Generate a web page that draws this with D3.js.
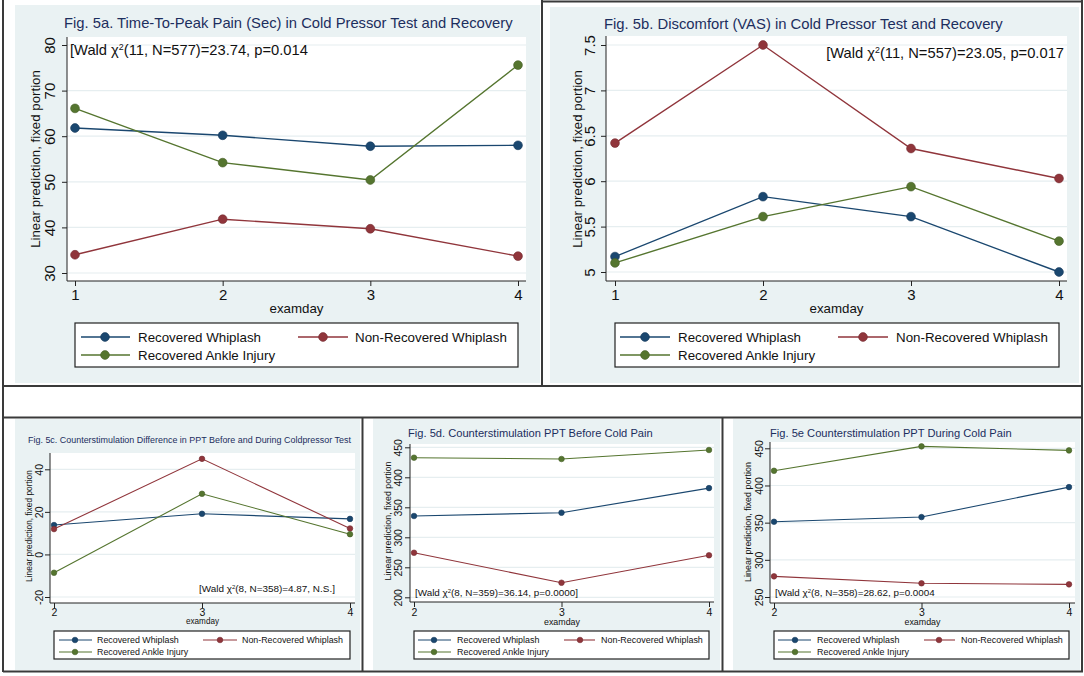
<!DOCTYPE html>
<html>
<head>
<meta charset="utf-8">
<script src="https://cdn.jsdelivr.net/npm/d3@7"></script>
<style>
  body { margin: 0; background: #fff; }
  svg { display: block; font-family: "Liberation Sans", Arial, sans-serif; }
</style>
</head>
<body>
<svg id="chart" width="1084" height="676"></svg>
<script>
// groups shown in every legend
var groups = ['Recovered Whiplash', 'Non-Recovered Whiplash', 'Recovered Ankle Injury'];
var groupColors = ['#1a476f', '#90353b', '#55752f'];

// exam days
var daysAB = [1, 2, 3, 4];
var daysCDE = [2, 3, 4];

// Fig 5a time-to-peak pain (sec)
var peakRecovered = [61.8, 60.2, 57.8, 58.0];
var peakNonRecovered = [34.0, 41.8, 39.7, 33.7];
var peakAnkle = [66.1, 54.2, 50.4, 75.6];
var peakTicks = [30, 40, 50, 60, 70, 80];

// Fig 5b discomfort (VAS)
var vasRecovered = [5.17, 5.83, 5.61, 5.00];
var vasNonRecovered = [6.42, 7.50, 6.36, 6.03];
var vasAnkle = [5.10, 5.61, 5.94, 5.34];
var vasTicks = [5, 5.5, 6, 6.5, 7, 7.5];

// Fig 5c counterstimulation difference
var diffRecovered = [13.8, 19.1, 16.7];
var diffNonRecovered = [11.9, 44.9, 12.2];
var diffAnkle = [-8.6, 28.5, 9.5];
var diffTicks = [-20, 0, 20, 40];

// Fig 5d PPT before cold pain
var beforeRecovered = [335.5, 341, 382];
var beforeNonRecovered = [274.3, 224.3, 270];
var beforeAnkle = [432.7, 430.5, 445.5];
var beforeTicks = [200, 250, 300, 350, 400, 450];

// Fig 5e PPT during cold pain
var duringRecovered = [351.2, 357.5, 397.8];
var duringNonRecovered = [277.8, 268.4, 267];
var duringAnkle = [419.8, 452.6, 447.2];
var duringTicks = [250, 300, 350, 400, 450];

var svg = d3.select('#chart');

function fit(sel, w) {
  var fs = parseFloat(sel.style('font-size'));
  var len = sel.node().getComputedTextLength();
  sel.style('font-size', (fs * w / len) + 'px');
  return fs * w / len;
}

function waldText(g, x, y, anchor, w, parts) {
  var t = g.append('text').attr('x', x).attr('y', y).attr('dy', '0.35em')
    .attr('text-anchor', anchor).style('font-size', '14px').attr('fill', '#111');
  t.append('tspan').text('[Wald \u03c7');
  t.append('tspan').attr('baseline-shift', 'super').style('font-size', '60%').text('2');
  t.append('tspan').text(parts);
  fit(t, w);
}

function drawPanel(p) {
  var g = svg.append('g');
  g.append('rect').attr('x', p.bg[0]).attr('y', p.bg[1])
    .attr('width', p.bg[2] - p.bg[0]).attr('height', p.bg[3] - p.bg[1])
    .attr('fill', '#eaf2f3');
  g.append('rect').attr('x', p.l).attr('y', p.t)
    .attr('width', p.r - p.l).attr('height', p.b - p.t).attr('fill', '#fff');

  var x = d3.scaleLinear().domain(d3.extent(p.days)).range(p.xr);
  var y = d3.scaleLinear().domain([p.ticks[0], p.ticks[p.ticks.length - 1]]).range(p.yr);

  // grid
  g.selectAll('.grid').data(p.ticks).enter().append('line')
    .attr('x1', p.l).attr('x2', p.r)
    .attr('y1', d => y(d)).attr('y2', d => y(d))
    .attr('stroke', '#e6eef0').attr('stroke-width', 1.2);

  // y axis
  var ya = g.append('g').attr('transform', 'translate(' + p.l + ',0)')
    .call(d3.axisLeft(y).tickValues(p.ticks).tickSize(5).tickSizeOuter(0).tickFormat(d => String(d)));
  ya.select('.domain').remove();
  ya.selectAll('line').attr('stroke', '#222');
  ya.selectAll('text')
    .attr('transform', 'rotate(-90)').attr('x', 0).attr('y', -(p.l - p.ytx - 0.36 * p.tfs))
    .attr('dy', 0).style('text-anchor', 'middle').style('font-size', p.tfs + 'px')
    .style('font-family', 'inherit').attr('fill', '#111');
  g.append('line').attr('x1', p.l).attr('x2', p.l).attr('y1', p.t).attr('y2', p.b)
    .attr('stroke', '#222').attr('stroke-width', 1);

  // x axis
  var xa = g.append('g').attr('transform', 'translate(0,' + p.b + ')')
    .call(d3.axisBottom(x).tickValues(p.days).tickSize(5).tickSizeOuter(0).tickFormat(d3.format('d')));
  xa.select('.domain').remove();
  xa.selectAll('line').attr('stroke', '#222');
  xa.selectAll('text').attr('y', p.xty - p.b).attr('dy', '0.36em')
    .style('font-size', p.tfs + 'px').style('font-family', 'inherit').attr('fill', '#111');
  g.append('line').attr('x1', p.l).attr('x2', p.r).attr('y1', p.b).attr('y2', p.b)
    .attr('stroke', '#222').attr('stroke-width', 1);

  // axis titles
  var yt = g.append('text').attr('transform', 'translate(' + p.ytitle[0] + ',' + p.ytitle[1] + ') rotate(-90)')
    .attr('text-anchor', 'middle').attr('dy', '0.35em').style('font-size', '12px').attr('fill', '#111')
    .text('Linear prediction, fixed portion');
  fit(yt, p.ytitle[2]);
  var xt = g.append('text').attr('x', (p.l + p.r) / 2).attr('y', p.xtitle[0]).attr('dy', '0.3em')
    .attr('text-anchor', 'middle').style('font-size', '12px').attr('fill', '#111').text('examday');
  fit(xt, p.xtitle[1]);

  // title
  var tt = g.append('text').attr('x', p.title[1]).attr('y', p.title[2]).attr('dy', '0.36em')
    .style('font-size', '12px').attr('fill', '#1c2e5e').text(p.title[0]);
  fit(tt, p.title[3]);

  waldText(g, p.wald[0], p.wald[1], p.wald[2], p.wald[3], p.wald[4]);

  // series
  var line = d3.line().x((d, i) => x(p.days[i])).y(d => y(d));
  p.series.forEach(function (vals, k) {
    g.append('path').datum(vals).attr('d', line).attr('fill', 'none')
      .attr('stroke', groupColors[k]).attr('stroke-width', p.lw);
    g.selectAll('.pt' + k).data(vals).enter().append('circle')
      .attr('cx', (d, i) => x(p.days[i])).attr('cy', d => y(d)).attr('r', p.mr)
      .attr('fill', groupColors[k]).attr('stroke', d3.color(groupColors[k]).darker(0.6)).attr('stroke-width', 0.6);
  });

  // legend
  var L = p.legend;
  g.append('rect').attr('x', L.box[0]).attr('y', L.box[1])
    .attr('width', L.box[2] - L.box[0]).attr('height', L.box[3] - L.box[1])
    .attr('fill', '#fff').attr('stroke', '#222').attr('stroke-width', 1.2);
  var slots = [[0, 0], [1, 0], [0, 1]];
  var probe = g.append('text').style('font-size', '12px').text(groups[1]);
  var lfs = fit(probe, L.w);
  probe.remove();
  groups.forEach(function (name, k) {
    var c = L.cols[slots[k][0]], ry = L.rows[slots[k][1]];
    g.append('line').attr('x1', c[0]).attr('x2', c[1]).attr('y1', ry).attr('y2', ry)
      .attr('stroke', groupColors[k]).attr('stroke-width', p.lw);
    g.append('circle').attr('cx', c[2]).attr('cy', ry).attr('r', p.mr)
      .attr('fill', groupColors[k]).attr('stroke', d3.color(groupColors[k]).darker(0.6)).attr('stroke-width', 0.6);
    g.append('text').attr('x', c[3]).attr('y', ry).attr('dy', '0.36em')
      .style('font-size', lfs + 'px').attr('fill', '#111').text(name);
  });
}

drawPanel({
  bg: [15, 5, 540, 383], l: 67, r: 526, t: 37, b: 281,
  days: daysAB, xr: [75, 518], ticks: peakTicks, yr: [273, 45],
  series: [peakRecovered, peakNonRecovered, peakAnkle],
  tfs: 15, ytx: 50, xty: 295, ytitle: [35, 159, 178], xtitle: [309, 54],
  title: ['Fig. 5a. Time-To-Peak Pain (Sec) in Cold Pressor Test and Recovery', 64, 23, 449],
  wald: [70, 50, 'start', 238, '(11, N=577)=23.74, p=0.014'],
  lw: 1.4, mr: 4.4,
  legend: { box: [75, 323, 518, 367], rows: [337, 355], w: 152,
    cols: [[81, 130, 105, 138], [298, 348, 323, 355]] }
});

drawPanel({
  bg: [550, 7, 1079, 383], l: 606, r: 1067, t: 36, b: 281,
  days: daysAB, xr: [615, 1059], ticks: vasTicks, yr: [272, 45],
  series: [vasRecovered, vasNonRecovered, vasAnkle],
  tfs: 15, ytx: 590, xty: 295, ytitle: [577, 159, 178], xtitle: [309, 54],
  title: ['Fig. 5b. Discomfort (VAS) in Cold Pressor Test and Recovery', 604, 24, 399],
  wald: [1064, 53, 'end', 238, '(11, N=557)=23.05, p=0.017'],
  lw: 1.4, mr: 4.4,
  legend: { box: [615, 323, 1059, 367], rows: [337, 355], w: 152,
    cols: [[620, 670, 645, 678], [838, 888, 863, 896]] }
});

drawPanel({
  bg: [15, 419, 360, 670], l: 50, r: 355, t: 453, b: 603,
  days: daysCDE, xr: [54, 350], ticks: diffTicks, yr: [597, 469.3],
  series: [diffRecovered, diffNonRecovered, diffAnkle],
  tfs: 10.5, ytx: 39, xty: 612, ytitle: [29, 526, 112], xtitle: [622, 33],
  title: ['Fig. 5c. Counterstimulation Difference in PPT Before and During Coldpressor Test', 28, 440, 323],
  wald: [199, 589, 'start', 136, '(8, N=358)=4.87, N.S.]'],
  lw: 1.1, mr: 2.8,
  legend: { box: [54, 631, 350, 659], rows: [640, 652], w: 101,
    cols: [[59, 92, 75, 97], [203, 237, 220, 242]] }
});

drawPanel({
  bg: [373, 419, 720, 670], l: 410, r: 714, t: 444, b: 602,
  days: daysCDE, xr: [414, 709], ticks: beforeTicks, yr: [597.3, 447.3],
  series: [beforeRecovered, beforeNonRecovered, beforeAnkle],
  tfs: 10.5, ytx: 398, xty: 612, ytitle: [388, 521, 119], xtitle: [622, 36],
  title: ['Fig. 5d. Counterstimulation PPT Before Cold Pain', 408, 433, 245],
  wald: [415, 593, 'start', 163, '(8, N=359)=36.14, p=0.0000]'],
  lw: 1.1, mr: 2.8,
  legend: { box: [414, 631, 709, 659], rows: [640, 652], w: 102,
    cols: [[418, 451, 434, 457], [564, 595, 580, 601]] }
});

drawPanel({
  bg: [733, 419, 1080, 670], l: 770, r: 1075, t: 442, b: 603,
  days: daysCDE, xr: [774, 1069], ticks: duringTicks, yr: [597, 448.3],
  series: [duringRecovered, duringNonRecovered, duringAnkle],
  tfs: 10.5, ytx: 759, xty: 612, ytitle: [748, 522, 120], xtitle: [622, 36],
  title: ['Fig. 5e Counterstimulation PPT During Cold Pain', 770, 433, 242],
  wald: [775, 593, 'start', 160, '(8, N=358)=28.62, p=0.0004'],
  lw: 1.1, mr: 2.8,
  legend: { box: [774, 631, 1069, 659], rows: [640, 652], w: 102,
    cols: [[778, 811, 795, 817], [924, 955, 939, 961]] }
});

// frame lines between the pasted panels
var frame = [
  [3, 0, 3, 672], [1082, 0, 1082, 672], [542, 1.5, 1083, 1.5], [542, 0, 542, 386],
  [3, 386, 1083, 386], [3, 417.5, 1083, 417.5], [3, 671.5, 1083, 671.5],
  [362.5, 417, 362.5, 672], [722.5, 417, 722.5, 672]
];
svg.selectAll('.frame').data(frame).enter().append('line')
  .attr('x1', d => d[0]).attr('y1', d => d[1]).attr('x2', d => d[2]).attr('y2', d => d[3])
  .attr('stroke', '#3a3a3a').attr('stroke-width', 2);
</script>
</body>
</html>
